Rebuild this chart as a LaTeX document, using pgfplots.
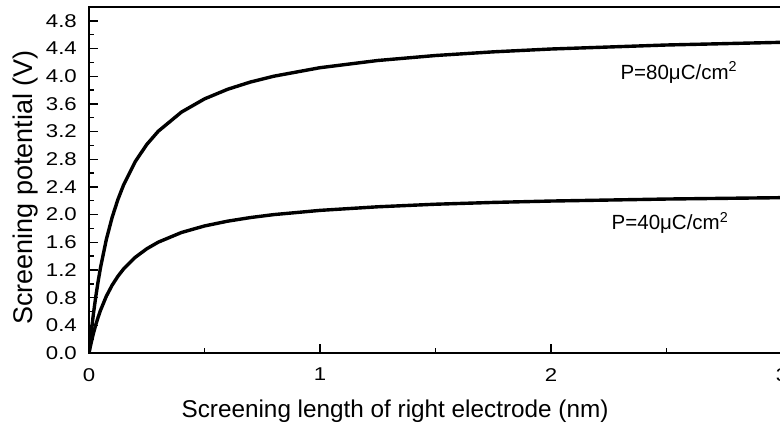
\documentclass[border=0pt]{standalone}
\usepackage{pgfplots}
\pgfplotsset{compat=1.18}
\usepackage{fontspec}
\setmainfont{Liberation Sans}
\newfontfamily\tickfont[FakeStretch=1.2]{Liberation Sans}
\begin{document}
\begin{tikzpicture}
\begin{axis}[
  scale only axis,
  width=693pt, height=346pt,
  xmin=0, xmax=3, ymin=0, ymax=5.0,
  xtick={0,1,2,3}, minor x tick num=1,
  ytick={0,0.4,...,4.81}, minor y tick num=1,
  xtick pos=bottom, ytick pos=left,
  tick align=inside,
  major tick length=9pt, minor tick length=5pt,
  every tick/.style={black, line width=1.4pt},
  axis line style={line width=1.4pt},
  xticklabel={\tickfont\fontsize{18.5}{18.5}\selectfont\pgfmathprintnumber[assume math mode=true]{\tick}},
  yticklabel={\tickfont\fontsize{18.5}{18.5}\selectfont\pgfmathprintnumber[assume math mode=true,fixed,fixed zerofill,precision=1]{\tick}},
  tick label style={inner sep=0pt},
  yticklabel style={xshift=-12pt},
  xticklabel style={yshift=-15pt},
  xlabel={Screening length of right electrode (nm)},
  ylabel={Screening potential (V)},
  xlabel style={font=\fontsize{24.3}{24.3}\selectfont, at={(axis description cs:0.4416,0)}, anchor=base, yshift=-64pt, inner sep=0pt},
  ylabel style={font=\fontsize{27}{27}\selectfont, at={(axis description cs:0,0.478)}, rotate=0, anchor=base, yshift=56pt, inner sep=0pt},
]
\addplot[black, line width=3.4pt] coordinates {
(0,0) (0.005,0.162) (0.01,0.313) (0.02,0.588) (0.03,0.829) (0.04,1.044) (0.05,1.237)
(0.075,1.640) (0.1,1.958) (0.125,2.217) (0.15,2.431) (0.2,2.765) (0.25,3.013) (0.3,3.205)
(0.4,3.481) (0.5,3.672) (0.6,3.811) (0.7,3.917) (0.8,4.000) (1.0,4.123) (1.25,4.227)
(1.5,4.299) (1.75,4.352) (2.0,4.393) (2.5,4.451) (3.0,4.490)
};
\addplot[black, line width=3.4pt] coordinates {
(0,0) (0.005,0.081) (0.01,0.157) (0.02,0.294) (0.03,0.415) (0.04,0.522) (0.05,0.618)
(0.075,0.820) (0.1,0.979) (0.125,1.108) (0.15,1.216) (0.2,1.382) (0.25,1.506) (0.3,1.602)
(0.4,1.741) (0.5,1.836) (0.6,1.905) (0.7,1.958) (0.8,2.000) (1.0,2.061) (1.25,2.113)
(1.5,2.150) (1.75,2.176) (2.0,2.196) (2.5,2.225) (3.0,2.245)
};
\node[anchor=base west, inner sep=0pt, font=\fontsize{20.5}{20.5}\selectfont] at (axis cs:2.30,3.957) {P=80μC/cm\textsuperscript{2}};
\node[anchor=base west, inner sep=0pt, font=\fontsize{20.5}{20.5}\selectfont] at (axis cs:2.262,1.783) {P=40μC/cm\textsuperscript{2}};
\end{axis}
\pgfresetboundingbox
\useasboundingbox (-89pt,-71pt) rectangle (691pt,353pt);
\end{tikzpicture}
\end{document}
